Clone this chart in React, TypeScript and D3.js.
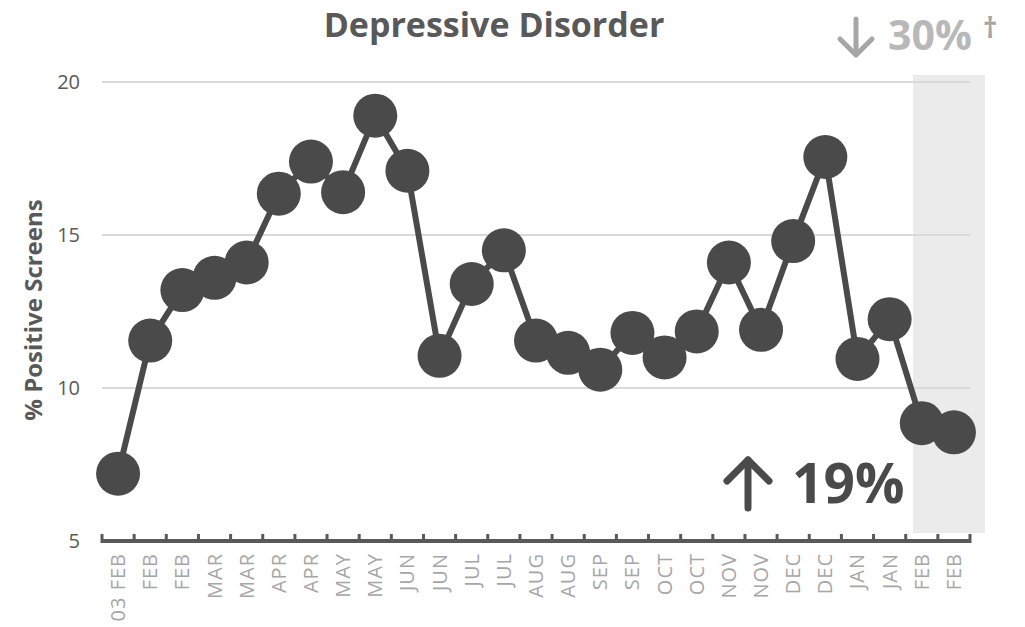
import * as d3 from "d3";

const categories = [
  "03 FEB", "FEB", "FEB", "MAR", "MAR", "APR", "APR", "MAY", "MAY", "JUN",
  "JUN", "JUL", "JUL", "AUG", "AUG", "SEP", "SEP", "OCT", "OCT", "NOV",
  "NOV", "DEC", "DEC", "JAN", "JAN", "FEB", "FEB",
];
const values = [
  7.2, 11.55, 13.2, 13.6, 14.1, 16.35, 17.4, 16.4, 18.9, 17.1,
  11.05, 13.4, 14.5, 11.55, 11.15, 10.6, 11.8, 11.0, 11.85, 14.1,
  11.9, 14.8, 17.55, 10.95, 12.25, 8.85, 8.55,
];
const yTicks = [5, 10, 15, 20];

const W = 1025;
const H = 627;
const left = 102;
const right = 970;

export default function App() {
  const x = d3.scaleBand<number>()
    .domain(categories.map((_, i) => i))
    .range([left, right]);
  const y = d3.scaleLinear().domain([5, 20]).range([541, 82]);
  const cx = (i: number) => x(i)! + x.bandwidth() / 2;

  const line = d3.line<number>()
    .x((_, i) => cx(i))
    .y((d) => y(d));

  const font = "'Open Sans', sans-serif";

  return (
    <svg width={W} height={H} style={{ position: "absolute", left: 0, top: 0 }}>
      <rect width={W} height={H} fill="#fff" />
      {/* shaded recent period */}
      <rect x={913} y={75} width={72} height={458} fill="#ebebeb" />

      {yTicks.filter((t) => t > 5).map((t) => (
        <line key={t} x1={left} x2={right} y1={y(t)} y2={y(t)} stroke="#d9d9d9" strokeWidth={2} />
      ))}
      {yTicks.map((t) => (
        <text key={t} x={80} y={y(t)} dy="0.36em" textAnchor="end" fontFamily={font}
          fontSize={20} fill="#595959">{t}</text>
      ))}

      {/* x axis */}
      <line x1={left} x2={right} y1={y(5)} y2={y(5)} stroke="#595959" strokeWidth={4} />
      {d3.range(categories.length + 1).map((i) => {
        const tx = i < categories.length ? x(i)! : right;
        return <line key={i} x1={tx} x2={tx} y1={y(5) + 2} y2={y(5) - 7} stroke="#595959" strokeWidth={3} />;
      })}
      {categories.map((c, i) => (
        <text key={i} transform={`translate(${cx(i) + 7},${553}) rotate(-90)`} textAnchor="end"
          fontFamily={font} fontSize={20} letterSpacing={1} fill="#a6a6a6">{c}</text>
      ))}

      <path d={line(values)!} fill="none" stroke="#4a4a4a" strokeWidth={6} strokeLinejoin="round" />
      {values.map((v, i) => (
        <circle key={i} cx={cx(i)} cy={y(v)} r={22} fill="#4a4a4a" />
      ))}

      <text x={494} y={37} textAnchor="middle" fontFamily={font} fontWeight="bold" fontSize={34}
        fill="#595959">Depressive Disorder</text>

      <text transform="translate(42,310) rotate(-90)" textAnchor="middle" fontFamily={font}
        fontWeight="bold" fontSize={24} fill="#595959">% Positive Screens</text>

      {/* down arrow + 30% */}
      <g stroke="#a6a6a6" strokeWidth={5} fill="none" strokeLinecap="round" strokeLinejoin="round">
        <line x1={856} y1={19} x2={856} y2={54} />
        <polyline points="840,39 856,55 872,39" />
      </g>
      <text x={888} y={50} fontFamily={font} fontWeight="bold" fontSize={41} fill="#b8b8b8">30%</text>
      <text x={983} y={38} fontFamily={font} fontWeight="bold" fontSize={28} fill="#a6a6a6">†</text>

      {/* up arrow + 19% */}
      <g stroke="#4a4a4a" strokeWidth={7} fill="none" strokeLinecap="round" strokeLinejoin="round">
        <line x1={748} y1={460} x2={748} y2={508} />
        <polyline points="727,481 748,460 769,481" />
      </g>
      <text x={792} y={503} fontFamily={font} fontWeight="bold" fontSize={55} fill="#4a4a4a">19%</text>
    </svg>
  );
}
